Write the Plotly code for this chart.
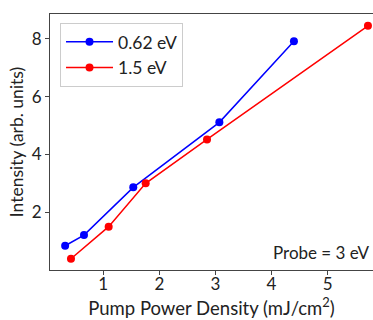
import plotly.graph_objects as go

blue_x = [0.32, 0.656, 1.535, 3.07, 4.40]
blue_y = [0.84, 1.21, 2.86, 5.11, 7.92]
red_x = [0.424, 1.096, 1.756, 2.85, 5.72]
red_y = [0.39, 1.50, 3.00, 4.52, 8.45]
blue_name = "0.62 eV"
red_name = "1.5 eV"
x_ticks = [1, 2, 3, 4, 5]
y_ticks = [2, 4, 6, 8]

font = "Lato, Carlito, 'Open Sans', sans-serif"

fig = go.Figure()
fig.add_trace(go.Scatter(x=blue_x, y=blue_y, mode="lines+markers", name=blue_name,
                         line=dict(color="#0000ff", width=1.5), marker=dict(size=8, color="#0000ff")))
fig.add_trace(go.Scatter(x=red_x, y=red_y, mode="lines+markers", name=red_name,
                         line=dict(color="#ff0000", width=1.5), marker=dict(size=8, color="#ff0000")))

fig.update_layout(
    width=373, height=320,
    margin=dict(l=50, r=0, t=14, b=50),
    plot_bgcolor="white", paper_bgcolor="white",
    font=dict(family=font, size=17, color="#222"),
    showlegend=True,
    legend=dict(x=0.031, y=0.965, xanchor="left", yanchor="top",
                bordercolor="#cccccc", borderwidth=1, bgcolor="white",
                font=dict(size=17.5), itemwidth=47, tracegroupgap=0),
    xaxis=dict(range=[0.05, 5.81], tickvals=x_ticks, ticks="outside", ticklen=4,
               showline=True, linecolor="#444", linewidth=1, mirror=True, showgrid=False,
               zeroline=False, tickfont=dict(size=17), ticklabelstandoff=-5,
               title=dict(text="Pump Power Density (mJ/cm<sup>2</sup>)", font=dict(size=18.5), standoff=0)),
    yaxis=dict(range=[0, 8.86], tickvals=y_ticks, ticks="outside", ticklen=4,
               showline=True, linecolor="#444", linewidth=1, mirror=True, showgrid=False,
               zeroline=False, tickfont=dict(size=17),
               title=dict(text="Intensity (arb. units)", font=dict(size=17.5), standoff=3)),
    annotations=[dict(x=0.998, y=0.07, xref="paper", yref="paper", xanchor="right", yanchor="middle",
                      text="Probe = 3 eV", showarrow=False, font=dict(size=17, color="#222"))],
)

fig.write_html("out.html", config={"displayModeBar": False},
               post_script="document.body.style.margin='0';document.body.style.overflow='hidden';")
